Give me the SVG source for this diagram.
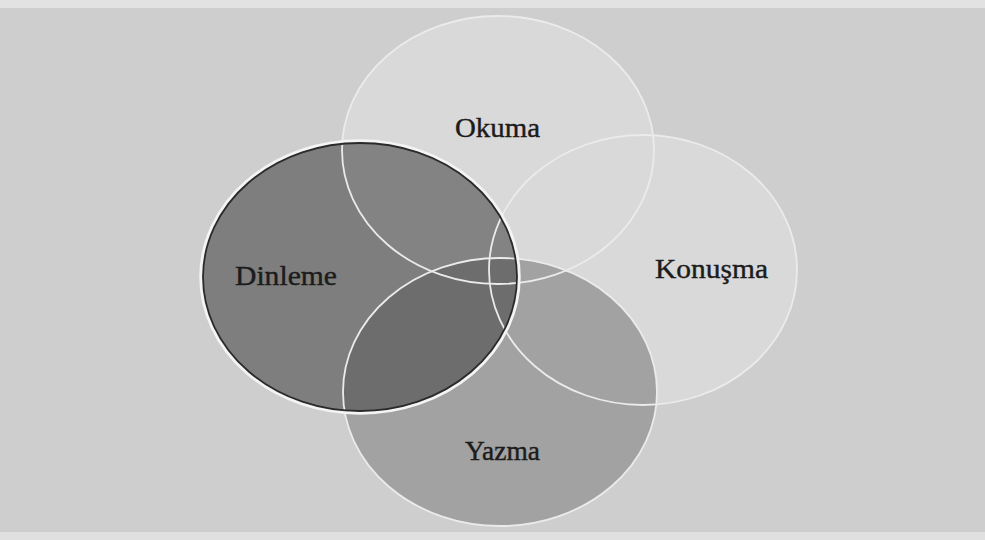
<svg xmlns="http://www.w3.org/2000/svg" width="985" height="540" viewBox="0 0 985 540">
  <defs>
    <style>
      .lbl { font-family: "Liberation Serif", "Times New Roman", serif; font-size: 27px; fill: #1c1c1c; stroke: #1c1c1c; stroke-width: 0.4; }
      .light { fill: #d9d9d9; }
      .ring { fill: none; stroke: #ebebeb; stroke-width: 1.8; }
    </style>
  </defs>
  <rect x="0" y="0" width="985" height="540" fill="#cecece"/>
  <rect x="0" y="0" width="985" height="8" fill="#e2e2e2"/>
  <rect x="0" y="532" width="985" height="8" fill="#e0e0e0"/>

  <g id="okuma">
    <ellipse class="light" cx="498" cy="150" rx="156" ry="134"/>
    <text class="lbl" x="455" y="137" textLength="85" lengthAdjust="spacingAndGlyphs">Okuma</text>
  </g>
  <g id="konusma">
    <ellipse class="light" cx="643" cy="270" rx="154" ry="135"/>
    <text class="lbl" x="655" y="278" textLength="113" lengthAdjust="spacingAndGlyphs">Konuşma</text>
  </g>
  <g id="yazma">
    <ellipse cx="500" cy="392" rx="157" ry="134" fill="#a2a2a2"/>
  </g>
  <g id="dinleme">
    <ellipse cx="360" cy="277" rx="157" ry="134" fill="#4a4a4a" fill-opacity="0.6"/>
  </g>

  <g id="outlines">
    <ellipse class="ring" cx="498" cy="150" rx="156" ry="134"/>
    <ellipse class="ring" cx="643" cy="270" rx="154" ry="135"/>
    <ellipse class="ring" cx="500" cy="392" rx="157" ry="134"/>
    <ellipse cx="360" cy="277" rx="159" ry="136" fill="none" stroke="#f4f4f4" stroke-width="3.5"/>
    <ellipse cx="360" cy="277" rx="157" ry="134" fill="none" stroke="#2a2a2a" stroke-width="1.8"/>
  </g>

  <g id="labels-over">
    <text class="lbl" x="235" y="285" textLength="102" lengthAdjust="spacingAndGlyphs">Dinleme</text>
    <text class="lbl" x="465" y="460" textLength="75" lengthAdjust="spacingAndGlyphs">Yazma</text>
  </g>

  <g id="connectors"/>
</svg>
